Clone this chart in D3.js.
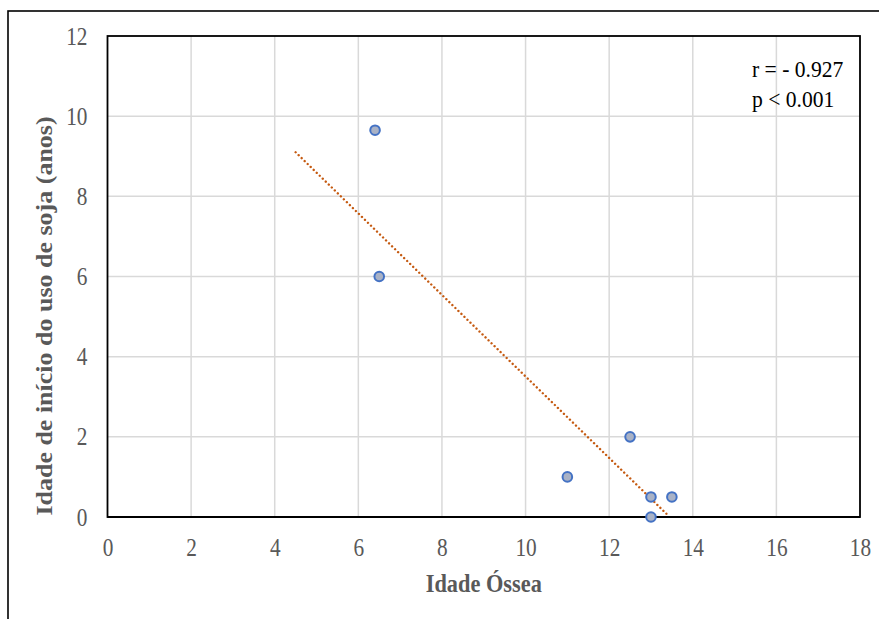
<!DOCTYPE html>
<html>
<head>
<meta charset="utf-8">
<script src="https://cdn.jsdelivr.net/npm/d3@7"></script>
<style>
  html, body { margin: 0; padding: 0; background: #ffffff; }
  svg { display: block; }
</style>
</head>
<body>
<svg id="chart" width="879" height="619"></svg>
<script>
// ---- data ----
const xValues = [6.4, 6.5, 11, 12.5, 13, 13.5, 13];
const yValues = [9.65, 6, 1, 2, 0.5, 0.5, 0];
const trendX = [4.5, 13.4];
const trendY = [9.1, 0.05];
const xTicks = [0, 2, 4, 6, 8, 10, 12, 14, 16, 18];
const yTicks = [0, 2, 4, 6, 8, 10, 12];
const xTitle = "Idade Óssea";
const yTitle = "Idade de início do uso de soja (anos)";
const annotations = ["r = - 0.927", "p < 0.001"];

// ---- layout ----
const svg = d3.select("#chart");
const pL = 107.5, pR = 860, pT = 36, pB = 517;
const sx = 0.82; // horizontal squeeze of text seen in reference
const serif = "'Liberation Serif', 'Times New Roman', serif";

const x = d3.scaleLinear().domain([0, 18]).range([pL, pR]);
const y = d3.scaleLinear().domain([0, 12]).range([pB, pT]);

// outer frame
svg.append("rect")
  .attr("x", 8).attr("y", 11).attr("width", 900).attr("height", 700)
  .attr("fill", "none").attr("stroke", "#000").attr("stroke-width", 1.6);

// gridlines
svg.append("g").selectAll("line").data(xTicks.slice(1, -1)).join("line")
  .attr("x1", d => x(d)).attr("x2", d => x(d))
  .attr("y1", pT).attr("y2", pB)
  .attr("stroke", "#d9d9d9").attr("stroke-width", 1.5);
svg.append("g").selectAll("line").data(yTicks.slice(1, -1)).join("line")
  .attr("x1", pL).attr("x2", pR)
  .attr("y1", d => y(d)).attr("y2", d => y(d))
  .attr("stroke", "#d9d9d9").attr("stroke-width", 1.5);

// plot frame
svg.append("rect")
  .attr("x", pL).attr("y", pT).attr("width", pR - pL).attr("height", pB - pT)
  .attr("fill", "none").attr("stroke", "#000").attr("stroke-width", 1.8);

// axes (labels only)
const xAxis = svg.append("g").attr("transform", `translate(0,${pB})`)
  .call(d3.axisBottom(x).tickValues(xTicks).tickSize(0).tickFormat(d3.format("d")));
xAxis.select(".domain").remove();
xAxis.selectAll("text")
  .attr("y", 39).attr("dy", 0)
  .attr("transform", `scale(${sx},1)`)
  .attr("font-family", serif).attr("font-size", 26).attr("fill", "#595959");

const yAxis = svg.append("g").attr("transform", `translate(${pL},0)`)
  .call(d3.axisLeft(y).tickValues(yTicks).tickSize(0).tickFormat(d3.format("d")));
yAxis.select(".domain").remove();
yAxis.selectAll("text")
  .attr("x", -20 / sx).attr("dy", 8)
  .attr("transform", `scale(${sx},1)`)
  .attr("font-family", serif).attr("font-size", 26).attr("fill", "#595959");

// bottom axis line
svg.append("line")
  .attr("x1", pL).attr("x2", pR).attr("y1", pB).attr("y2", pB)
  .attr("stroke", "#000").attr("stroke-width", 2);

// trend line (dotted)
const line = d3.line().x(d => x(d[0])).y(d => y(d[1]));
svg.append("path")
  .datum(trendX.map((v, i) => [v, trendY[i]]))
  .attr("d", line)
  .attr("fill", "none").attr("stroke", "#C55A11").attr("stroke-width", 2.4)
  .attr("stroke-linecap", "round").attr("stroke-dasharray", "0.01 4.2");

// points
svg.append("g").selectAll("circle").data(xValues.map((v, i) => [v, yValues[i]])).join("circle")
  .attr("cx", d => x(d[0])).attr("cy", d => y(d[1])).attr("r", 4.8)
  .attr("fill", "#A9B2C6").attr("stroke", "#4472C4").attr("stroke-width", 2);

// annotation
svg.append("g").selectAll("text").data(annotations).join("text")
  .attr("transform", (d, i) => `translate(752,${77 + i * 30}) scale(0.9,1)`)
  .attr("font-family", serif).attr("font-size", 24).attr("fill", "#000")
  .text(d => d);

// axis titles
svg.append("text")
  .attr("transform", `translate(${(pL + pR) / 2},592) scale(0.86,1)`)
  .attr("text-anchor", "middle")
  .attr("font-family", serif).attr("font-size", 26).attr("font-weight", "bold")
  .attr("fill", "#595959")
  .text(xTitle);

svg.append("text")
  .attr("transform", `translate(52,316) scale(0.86,1) rotate(-90)`)
  .attr("text-anchor", "middle")
  .attr("font-family", serif).attr("font-size", 26).attr("font-weight", "bold")
  .attr("fill", "#595959")
  .text(yTitle);
</script>
</body>
</html>
